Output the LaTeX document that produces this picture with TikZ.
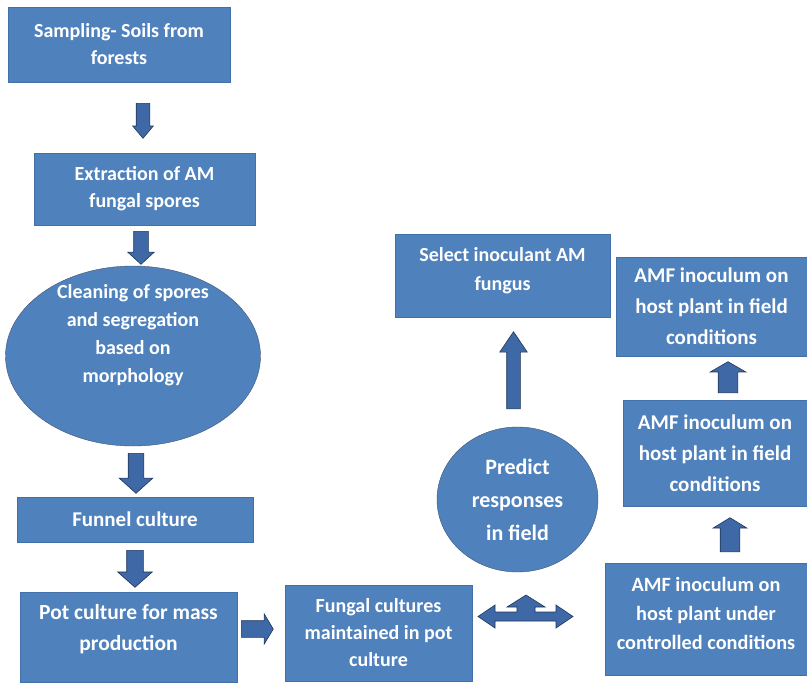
\documentclass[tikz,border=0pt]{standalone}
\usepackage{fontspec}
\setmainfont{Carlito}
\usetikzlibrary{shapes.geometric,shapes.arrows}
\definecolor{boxblue}{RGB}{79,129,189}
\definecolor{boxline}{RGB}{66,112,168}
\definecolor{arrblue}{RGB}{62,105,166}
\definecolor{arrline}{RGB}{32,54,90}
\newcommand{\fs}[2]{\fontsize{#1}{#2}\selectfont}

\begin{document}
\begin{tikzpicture}[x=1pt,y=-1pt,
  bx/.style={draw=boxline,fill=boxblue,text=white,font=\bfseries\fs{20}{27},align=center,inner sep=0pt},
  ov/.style={bx,ellipse,draw=arrline!85},
  tx/.style={text=white,font=\bfseries\fs{20}{28},align=center,inner sep=0pt},
  ba/.style n args={5}{single arrow,draw=arrline,fill=arrblue,semithick,anchor=tail,
    inner xsep=0pt,single arrow head indent=0pt,rotate=#1,minimum height=#2,
    inner ysep=#3,single arrow head extend=#4,single arrow tip angle=#5}]
\useasboundingbox (0,0) rectangle (807,683);
% left column
\node[bx,minimum width=222,minimum height=75] (samp) at (119,44.5) {Sampling- Soils from\\ forests};
\node[bx,minimum width=221,minimum height=72] (extr) at (144.5,189) {Extraction of AM\\ fungal spores};
\node[ov,minimum width=255,minimum height=180] (clean) at (133,356) {};
\node[tx] (cleantxt) at ([yshift=21pt]clean.center) {Cleaning of spores\\ and segregation\\ based on\\ morphology};
\node[bx,minimum width=236,minimum height=45,font=\bfseries\fs{21}{27}] (funnel) at (135,519.5) {Funnel culture};
\node[bx,minimum width=217,minimum height=90,font=\bfseries\fs{21.5}{31},text depth=19pt] (pot) at (128.5,637) {Pot culture for mass\\ production};
\node[ba={-90}{35}{6.5}{3.5}{80}] (a1) at (143,103) {};
\node[ba={-90}{33}{7}{6}{95}] (a2) at (141,231) {};
\node[ba={-90}{40}{7.5}{9}{96}] (a3) at (136,453) {};
\node[ba={-90}{37}{8}{9}{97}] (a4) at (135,550) {};
\node[ba={0}{32}{8}{7}{118}] (a5) at (241,629) {};
% middle
\node[bx,minimum width=187,minimum height=96] (fung) at (378.5,633) {Fungal cultures\\ maintained in pot\\ culture};
\node[ov,minimum width=161,minimum height=145,font=\bfseries\fs{22}{33}] (pred) at (517.5,499.5) {Predict\\ responses\\ in field};
\node[bx,minimum width=215,minimum height=83,font=\bfseries\fs{20}{29},text depth=13pt] (sel) at (502.5,275.5) {Select inoculant AM\\ fungus};
\node[ba={90}{77}{6.5}{7}{68}] (a6) at (513.5,409) {};
\coordinate (tri) at (526,616.5);
\begin{scope}[shift={(tri)}]
\draw[draw=arrline,fill=arrblue,semithick] (-48,0) -- (-31,-11.5) -- (-31,-4.5) -- (-9,-4.5) -- (-9,-9.5) -- (-19,-9.5)
  -- (0,-21.5) -- (19,-9.5) -- (9,-9.5) -- (9,-4.5) -- (30,-4.5) -- (30,-11.5) -- (47,0)
  -- (30,11.5) -- (30,4.5) -- (-31,4.5) -- (-31,11.5) -- cycle;
\end{scope}
% right column
\node[bx,minimum width=191,minimum height=99,font=\bfseries\fs{21}{31}] (amf1) at (711.5,306.5) {AMF inoculum on\\ host plant in field\\ conditions};
\node[bx,minimum width=184,minimum height=106,font=\bfseries\fs{21}{31}] (amf2) at (715,453) {AMF inoculum on\\ host plant in field\\ conditions};
\node[bx,minimum width=202,minimum height=112,font=\bfseries\fs{20.3}{29},text depth=12pt] (amf3) at (706,619) {AMF inoculum on\\ host plant under\\ controlled conditions};
\node[ba={90}{31}{9.5}{8}{120}] (a7) at (728,393) {};
\node[ba={90}{34}{9.5}{7}{117}] (a8) at (730,552) {};
\end{tikzpicture}
\end{document}
